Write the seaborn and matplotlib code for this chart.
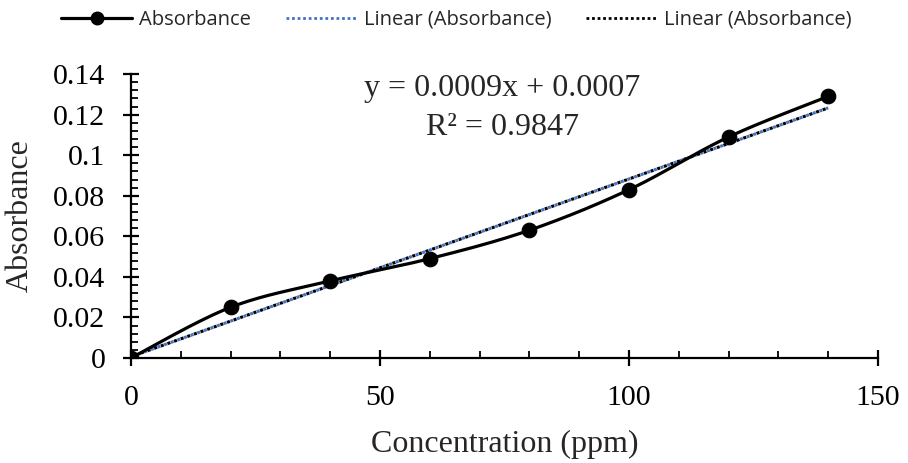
import numpy as np
import matplotlib
matplotlib.use("Agg")
import matplotlib.pyplot as plt
import seaborn as sns
from matplotlib.lines import Line2D
from matplotlib.ticker import MultipleLocator, FuncFormatter

# calibration data
concentration = [0, 20, 40, 60, 80, 100, 120, 140]
absorbance = [0.0, 0.025, 0.038, 0.049, 0.063, 0.083, 0.109, 0.129]
equation_text = "y = 0.0009x + 0.0007"
r2_text = "R² = 0.9847"

sns.set_style("white")
plt.rcParams["font.family"] = ["Liberation Serif", "DejaVu Serif"]

fig = plt.figure(figsize=(9.08, 4.63), dpi=100)
ax = fig.add_axes([0.1443, 0.2268, 0.967 - 0.1443, 0.840 - 0.2268])

x = np.array(concentration, dtype=float)
y = np.array(absorbance, dtype=float)

# excel-style smoothed line (bezier through the points)
px = np.concatenate([[x[0]], x, [x[-1]]])
py = np.concatenate([[y[0]], y, [y[-1]]])
sx, sy = [], []
t = np.linspace(0, 1, 30)
for i in range(1, len(px) - 2):
    p0x, p0y = px[i], py[i]
    p3x, p3y = px[i + 1], py[i + 1]
    c1x = p0x + (px[i + 1] - px[i - 1]) / 6
    c1y = p0y + (py[i + 1] - py[i - 1]) / 6
    c2x = p3x - (px[i + 2] - px[i]) / 6
    c2y = p3y - (py[i + 2] - py[i]) / 6
    b = [(1 - t) ** 3, 3 * (1 - t) ** 2 * t, 3 * (1 - t) * t ** 2, t ** 3]
    sx.extend(b[0] * p0x + b[1] * c1x + b[2] * c2x + b[3] * p3x)
    sy.extend(b[0] * p0y + b[1] * c1y + b[2] * c2y + b[3] * p3y)

# linear trendline
slope, intercept = np.polyfit(x, y, 1)
tx = np.array([x.min(), x.max()])
ty = slope * tx + intercept

ax.plot(tx, ty, color="#4472C4", lw=2.2, ls=(0, (1, 1.3)), zorder=2)
ax.plot(tx, ty, color="black", lw=2.2, ls=(1.15, (1, 1.3)), zorder=2)
sns.lineplot(x=sx, y=sy, ax=ax, color="black", lw=2.3, sort=False, zorder=3)
sns.scatterplot(x=concentration, y=absorbance, ax=ax, color="black", s=110,
                edgecolor="black", zorder=4)

ax.set_xlim(0, 150)
ax.set_ylim(0, 0.14)
ax.xaxis.set_major_locator(MultipleLocator(50))
ax.xaxis.set_minor_locator(MultipleLocator(10))
ax.yaxis.set_major_locator(MultipleLocator(0.02))
ax.yaxis.set_minor_locator(MultipleLocator(0.004))
ax.yaxis.set_major_formatter(FuncFormatter(lambda v, p: f"{round(v, 3):g}"))

for side in ["top", "right"]:
    ax.spines[side].set_visible(False)
for side in ["left", "bottom"]:
    ax.spines[side].set_linewidth(1.6)
    ax.spines[side].set_color("black")

ax.tick_params(which="major", direction="inout", length=11, width=1.6,
               labelsize=21.5, colors="black")
ax.tick_params(which="minor", direction="in", length=5, width=1.3, colors="black")
ax.tick_params(axis="y", which="both", left=True)
ax.tick_params(axis="x", which="both", bottom=True)
ax.tick_params(axis="x", which="major", pad=14)
ax.tick_params(axis="y", which="major", pad=13)

ax.set_xlabel("Concentration (ppm)", fontsize=23)
ax.set_ylabel("Absorbance", fontsize=23)
ax.xaxis.set_label_coords(0.5, -0.255)
ax.yaxis.set_label_coords(-0.1285, 0.5)

ax.text(74.5, 0.1331, equation_text, fontsize=23, ha="center", va="center")
ax.text(74.5, 0.1139, r2_text, fontsize=23, ha="center", va="center")

handles = [
    Line2D([], [], color="black", lw=2.3, marker="o", markersize=9),
    Line2D([], [], color="#4472C4", lw=2, ls=(0, (1, 1))),
    Line2D([], [], color="black", lw=2, ls=(0, (1, 1))),
]
labels = ["Absorbance", "Linear (Absorbance)", "Linear (Absorbance)"]
fig.legend(handles, labels, loc="center", bbox_to_anchor=(0.5028, 0.957),
           ncol=3, frameon=False, prop={"family": "Open Sans", "size": 14.5},
           handlelength=3.5, handletextpad=0.35, columnspacing=1.75,
           borderpad=0, borderaxespad=0)

fig.savefig("out.png", dpi=100)
